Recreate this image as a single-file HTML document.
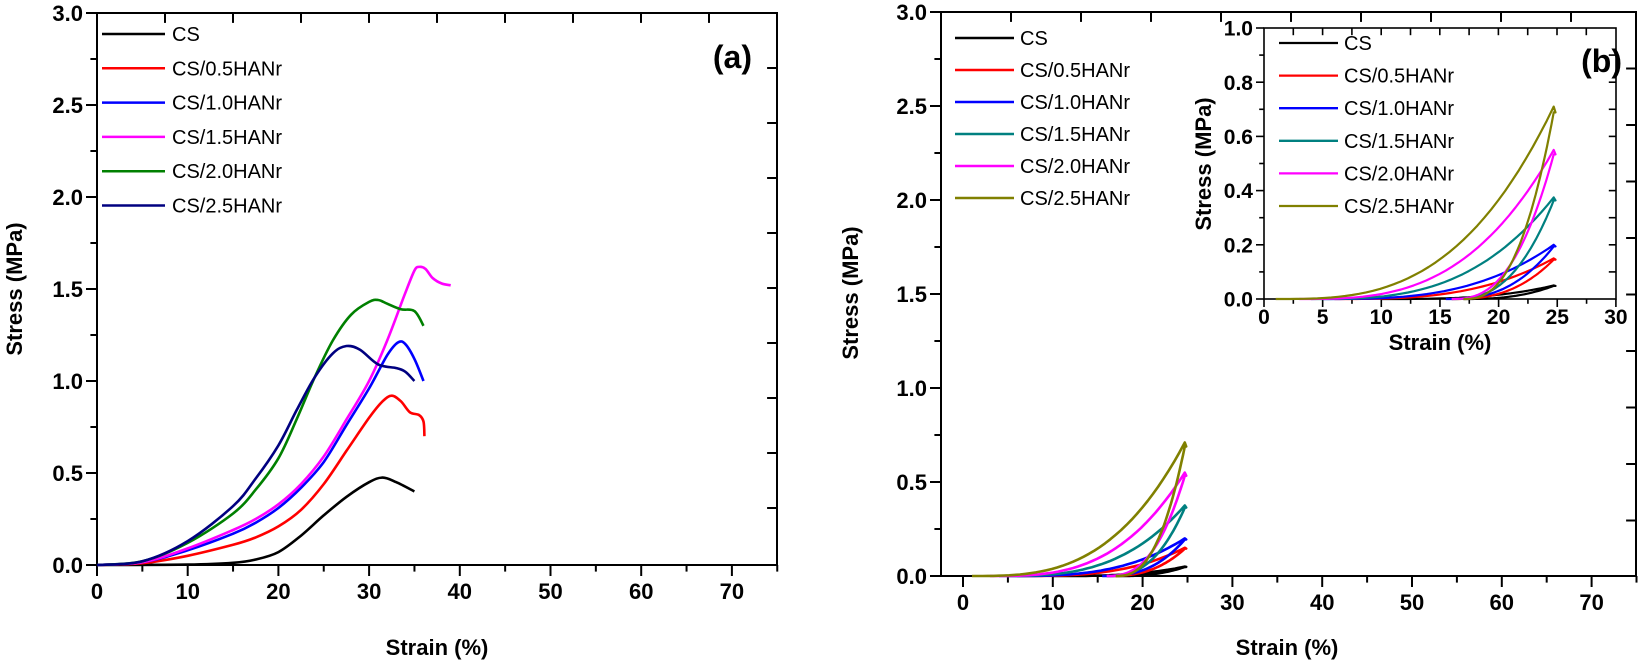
<!DOCTYPE html>
<html><head><meta charset="utf-8">
<style>
html,body{margin:0;padding:0;background:#fff;}
svg{display:block;}
text{font-family:"Liberation Sans",Arial,sans-serif;}
.tl{font-weight:bold;font-size:22px;}
.ti{font-weight:bold;font-size:22px;}
.lg{font-size:20px;}
.lgs{font-size:20px;}
.tls{font-weight:bold;font-size:21px;}
</style></head>
<body>
<svg id="s" width="1638" height="661" viewBox="0 0 1638 661" xmlns="http://www.w3.org/2000/svg">
<g id="g"></g>
<text x="437" y="655" text-anchor="middle" class="ti">Strain (%)</text>
<text transform="translate(22,289) rotate(-90)" text-anchor="middle" class="ti">Stress (MPa)</text>
<text x="1287" y="655" text-anchor="middle" class="ti">Strain (%)</text>
<text transform="translate(858,293) rotate(-90)" text-anchor="middle" class="ti">Stress (MPa)</text>
<text x="1440" y="350" text-anchor="middle" class="ti">Strain (%)</text>
<text transform="translate(1211,164) rotate(-90)" text-anchor="middle" class="ti">Stress (MPa)</text>
<text x="752" y="68" text-anchor="end" style="font-weight:bold;font-size:32px">(a)</text>
<text x="1622" y="72" text-anchor="end" style="font-weight:bold;font-size:32px">(b)</text>
</svg>
<script>
var NS="http://www.w3.org/2000/svg",G=document.getElementById('g');
function el(t,a,txt){var e=document.createElementNS(NS,t);for(var k in a)e.setAttribute(k,a[k]);if(txt!==undefined)e.textContent=txt;G.appendChild(e);return e;}
function line(x1,y1,x2,y2,w){el('line',{x1:x1,y1:y1,x2:x2,y2:y2,stroke:'#000','stroke-width':w||2});}
function axes(o){
 el('rect',{x:o.L,y:o.T,width:o.R-o.L,height:o.B-o.T,fill:'none',stroke:'#000','stroke-width':o.w||2});
 for(var v=o.xa;v<=o.xb+1e-9;v+=o.xstep){var px=o.x0+v*o.xs;var maj=Math.abs(v/o.xmaj-Math.round(v/o.xmaj))<1e-6;
   line(px,o.B,px,o.B+(maj?o.tk:o.tk*0.6),o.w||2);
   if(maj) el('text',{x:px,y:o.B+o.lo,'text-anchor':'middle','class':o.cls},String(Math.round(v)));}
 for(var v=o.ya;v<=o.yb+1e-9;v+=o.ystep){var py=o.y0-v*o.ys;var maj=Math.abs(v/o.ymaj-Math.round(v/o.ymaj))<1e-6;
   line(o.L,py,o.L-(maj?o.tk:o.tk*0.6),py,o.w||2);
   if(maj) el('text',{x:o.L-o.tk-3,y:py+o.fs*0.36,'text-anchor':'end','class':o.cls},v.toFixed(1));}
 for(var px=o.L+o.tsp;px<o.R-2;px+=o.tsp) line(px,o.T,px,o.T+o.tk*0.9,o.w||2);
 for(var py=o.T+o.rsp;py<o.B-2;py+=o.rsp) line(o.R,py,o.R-o.tk*0.9,py,o.w||2);
}
function smooth(pts){var d='M'+pts[0][0]+','+pts[0][1];
 for(var i=0;i<pts.length-1;i++){var p0=pts[i-1]||pts[i],p1=pts[i],p2=pts[i+1],p3=pts[i+2]||p2;
  var c1=[p1[0]+(p2[0]-p0[0])/6,p1[1]+(p2[1]-p0[1])/6],c2=[p2[0]-(p3[0]-p1[0])/6,p2[1]-(p3[1]-p1[1])/6];
  d+='C'+c1[0].toFixed(1)+','+c1[1].toFixed(1)+' '+c2[0].toFixed(1)+','+c2[1].toFixed(1)+' '+p2[0].toFixed(1)+','+p2[1].toFixed(1);}
 return d;}
var A={L:97,R:777,T:13,B:565,x0:97,xs:9.07,y0:565,ys:184,xa:0,xb:75,xstep:5,xmaj:10,ya:0,yb:3,ystep:0.25,ymaj:0.5,tk:11,lo:34,fs:22,cls:'tl',tsp:68,rsp:55};
axes(A);
var ca={
'#000':[[0,0],[10,0.002],[15,0.012],[17.5,0.03],[20,0.07],[22.5,0.16],[25,0.27],[27.5,0.37],[30,0.45],[31.5,0.475],[33,0.45],[35,0.40]],
'#f00':[[0,0],[5,0.01],[10,0.05],[15,0.11],[17.5,0.15],[20,0.21],[22.5,0.30],[25,0.44],[27.5,0.62],[30,0.80],[31.5,0.89],[32.5,0.92],[33.5,0.89],[34.5,0.83],[35.5,0.815],[36,0.78],[36.1,0.7]],
'#00f':[[0,0],[5,0.015],[10,0.08],[15,0.17],[17.5,0.23],[20,0.31],[22.5,0.42],[25,0.56],[27.5,0.76],[30,0.96],[32,1.14],[33.2,1.21],[34,1.2],[35,1.12],[36,1.0]],
'#ff00ff':[[0,0],[5,0.015],[10,0.09],[15,0.19],[17.5,0.25],[20,0.33],[22.5,0.44],[25,0.59],[27.5,0.79],[30,1.0],[32,1.22],[34,1.48],[35,1.6],[35.5,1.62],[36.2,1.61],[37,1.56],[38,1.53],[39,1.52]],
'#008000':[[0,0],[5,0.02],[10,0.12],[15,0.28],[17.5,0.41],[20,0.58],[22,0.79],[24,1.02],[26,1.22],[28,1.36],[30,1.43],[31,1.44],[32,1.42],[33.5,1.39],[35,1.38],[36,1.30]],
'#000080':[[0,0],[5,0.02],[10,0.13],[15,0.32],[17.5,0.47],[20,0.65],[22,0.84],[24,1.02],[26,1.15],[27.5,1.19],[29,1.17],[31,1.09],[33,1.07],[34,1.05],[35,1.0]]};
for(var c in ca){var p=ca[c].map(function(q){return [A.x0+q[0]*A.xs,A.y0-q[1]*A.ys];});
 el('path',{d:smooth(p),fill:'none',stroke:c,'stroke-width':2.6});}
var la=[['CS','#000'],['CS/0.5HANr','#f00'],['CS/1.0HANr','#00f'],['CS/1.5HANr','#ff00ff'],['CS/2.0HANr','#008000'],['CS/2.5HANr','#000080']];
la.forEach(function(l,i){var y=34+i*34.3;line(102,y,165,y,2.5);G.lastChild.setAttribute('stroke',l[1]);
 el('text',{x:172,y:y+7,'class':'lg'},l[0]);});
var B={L:941,R:1636,T:12,B:576,x0:963,xs:8.98,y0:576,ys:188,xa:0,xb:75,xstep:5,xmaj:10,ya:0,yb:3,ystep:0.25,ymaj:0.5,tk:11,lo:34,fs:22,cls:'tl',tsp:70,rsp:56.5};
axes(B);
var loops=[['#000',0.05,17,10],['#f00',0.15,16,6],['#00f',0.20,15.5,5],['#008080',0.375,16,4],['#ff00ff',0.55,16,3],['#808000',0.71,17,1]];
function loopPts(P,x0,xs0,ax){var pts=[];var xp=24.7;
 for(var i=0;i<=40;i++){var x=xs0+(xp-xs0)*i/40;var t=(x-xs0)/(xp-xs0);pts.push([x,P*Math.pow(t,3.0)]);}
 pts.push([24.85,P*0.97]);
 for(var i=40;i>=0;i--){var x=x0+(xp-x0)*i/40;var t=(x-x0)/(xp-x0);pts.push([x,P*0.97*Math.pow(t,2.6)]);}
 return pts.map(function(q){return [ax.x0+q[0]*ax.xs,ax.y0-q[1]*ax.ys];});}
function poly(p){return 'M'+p.map(function(q){return q[0].toFixed(1)+','+q[1].toFixed(1);}).join('L');}
loops.forEach(function(l){el('path',{d:poly(loopPts(l[1],l[2],l[3],B)),fill:'none',stroke:l[0],'stroke-width':2.6,'stroke-linejoin':'round'});});
var lb=[['CS','#000'],['CS/0.5HANr','#f00'],['CS/1.0HANr','#00f'],['CS/1.5HANr','#008080'],['CS/2.0HANr','#ff00ff'],['CS/2.5HANr','#808000']];
lb.forEach(function(l,i){var y=38+i*32;line(955,y,1014,y,2.5);G.lastChild.setAttribute('stroke',l[1]);
 el('text',{x:1020,y:y+7,'class':'lg'},l[0]);});
el('rect',{x:1264,y:28,width:352,height:271,fill:'#fff'});
var I={L:1264,R:1616,T:28,B:299,x0:1264,xs:11.73,y0:299,ys:271,xa:0,xb:30,xstep:2.5,xmaj:5,ya:0,yb:1,ystep:0.1,ymaj:0.2,tk:8,lo:25,fs:21,cls:'tls',tsp:29.3,rsp:27.1,w:1.6};
axes(I);
loops.forEach(function(l){el('path',{d:poly(loopPts(l[1],l[2],l[3],I)),fill:'none',stroke:l[0],'stroke-width':2.2,'stroke-linejoin':'round'});});
lb.forEach(function(l,i){var y=43+i*32.6;line(1279,y,1338,y,2.3);G.lastChild.setAttribute('stroke',l[1]);
 el('text',{x:1344,y:y+7,'class':'lgs'},l[0]);});
var s=document.getElementById('s');var bt=s.querySelectorAll('svg > text');bt.forEach(function(t){s.appendChild(t);});
</script>
</body></html>
